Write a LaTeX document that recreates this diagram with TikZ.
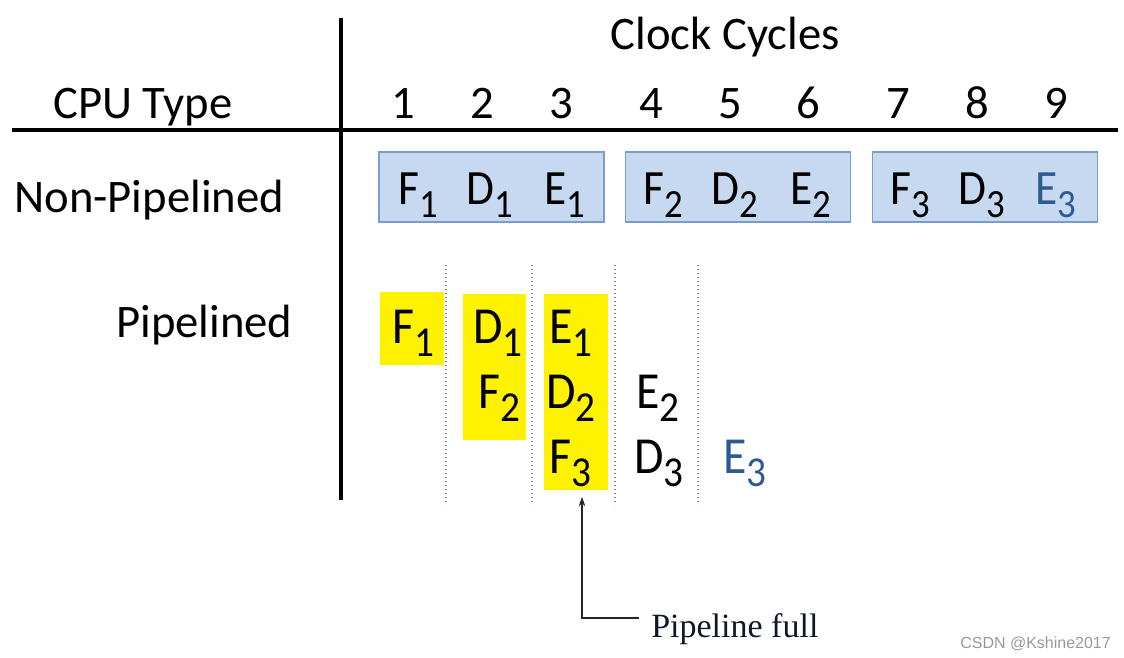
\documentclass[tikz,border=0pt]{standalone}
\usepackage{fontspec}
\setmainfont{Carlito}
\newfontfamily\stagefont[FakeStretch=0.92]{Carlito}
\newfontfamily\serifpf{Liberation Serif}
\newfontfamily\wmfont{Liberation Sans}
\usetikzlibrary{arrows.meta}
\definecolor{boxfill}{HTML}{C6D9F1}
\definecolor{boxline}{HTML}{7A9CCB}
\definecolor{ethree}{HTML}{2E5A93}
\definecolor{hl}{HTML}{FFF200}
\definecolor{pfcol}{HTML}{101828}
\newcommand\sbsa[1]{\raisebox{-10pt}{\fontsize{30}{30}\selectfont #1}}
\newcommand\sbsb[1]{\raisebox{-10pt}{\fontsize{32}{32}\selectfont #1}}
\newcommand\stga[2]{#1\sbsa{#2}}
\newcommand\stgb[2]{#1\sbsb{#2}}
\begin{document}
\begin{tikzpicture}[x=0.75pt,y=-0.75pt,
  lbl/.style={inner sep=0pt, font=\fontsize{35}{40}\selectfont},
  stage/.style={inner sep=0pt, anchor=base west, font=\stagefont\fontsize{37}{40}\selectfont},
  pstage/.style={inner sep=0pt, anchor=base west, font=\stagefont\fontsize{39}{42}\selectfont},
  npbox/.style={draw=boxline, fill=boxfill, line width=1.2pt, inner sep=0pt,
                minimum width=168.75pt, minimum height=52.5pt},
  hlbox/.style={fill=hl, inner sep=0pt},
  axis/.style={line width=2.3pt, black},
  sep/.style={gray, line width=1pt, dotted},
  arr/.style={line width=1.1pt, black!85, -{Stealth[length=7pt,width=5pt]}}]
\useasboundingbox (0,0) rectangle (1124,657);

% axes
\coordinate (hl0) at (12,130); \coordinate (hl1) at (1118,130);
\coordinate (vl0) at (341,18); \coordinate (vl1) at (341,500);
\draw[axis] (hl0) -- (hl1);
\draw[axis] (vl0) -- (vl1);

% headers
\node[lbl, anchor=base] (clock) at (725,49) {Clock Cycles};
\node[lbl, anchor=base west] (cpu) at (53,118) {CPU Type};
\foreach \n/\x in {1/403,2/482,3/561,4/651,5/730,6/808,7/898,8/977,9/1056}
  \node[lbl, anchor=base] (c\n) at (\x,118) {\n};

% non-pipelined
\node[lbl, anchor=base west] (np) at (14,212) {Non-Pipelined};
\node[npbox] (nb1) at (491.5,187) {};
\node[npbox] (nb2) at (738,187) {};
\node[npbox] (nb3) at (985,187) {};
\node[stage] (nf1) at (398,204) {\stga{F}{1}};
\node[stage] (nd1) at (466,204) {\stga{D}{1}};
\node[stage] (ne1) at (544,204) {\stga{E}{1}};
\node[stage] (nf2) at (643,204) {\stga{F}{2}};
\node[stage] (nd2) at (711,204) {\stga{D}{2}};
\node[stage] (ne2) at (790,204) {\stga{E}{2}};
\node[stage] (nf3) at (890,204) {\stga{F}{3}};
\node[stage] (nd3) at (958,204) {\stga{D}{3}};
\node[stage, text=ethree] (ne3) at (1035,204) {\stga{E}{3}};

% pipelined
\node[lbl, anchor=base west] (pl) at (116,337) {Pipelined};
\node[hlbox, minimum width=48pt, minimum height=54.75pt] (y1) at (412,328.5) {};
\node[hlbox, minimum width=47.25pt, minimum height=109.5pt] (y2) at (494.5,367) {};
\node[hlbox, minimum width=48pt, minimum height=147pt] (y3) at (576,392) {};
\foreach \x in {446,532,615,698}
  \draw[sep] (\x,265) -- (\x,505);
\node[pstage] (pf1) at (392,343) {\stgb{F}{1}};
\node[pstage] (pd1) at (473,343) {\stgb{D}{1}};
\node[pstage] (pe1) at (549,343) {\stgb{E}{1}};
\node[pstage] (pf2) at (478,408) {\stgb{F}{2}};
\node[pstage] (pd2) at (546,408) {\stgb{D}{2}};
\node[pstage] (pe2) at (636,408) {\stgb{E}{2}};
\node[pstage] (pf3) at (549,473) {\stgb{F}{3}};
\node[pstage] (pd3) at (634,473) {\stgb{D}{3}};
\node[pstage, text=ethree] (pe3) at (723,473) {\stgb{E}{3}};

% pipeline full
\node[inner sep=0pt, anchor=base west, text=pfcol,
      font=\serifpf\fontsize{25.5}{30}\selectfont] (pfull) at (651,637) {Pipeline full};
\coordinate (pfstart) at (639,618);
\coordinate (pftip) at (582,497);
\draw[arr] (pfstart) -| (pftip);

% watermark
\node[inner sep=0pt, anchor=base west, text=black!40,
      font=\wmfont\fontsize{12}{14}\selectfont] (wm) at (960,648) {CSDN @Kshine2017};
\end{tikzpicture}
\end{document}
